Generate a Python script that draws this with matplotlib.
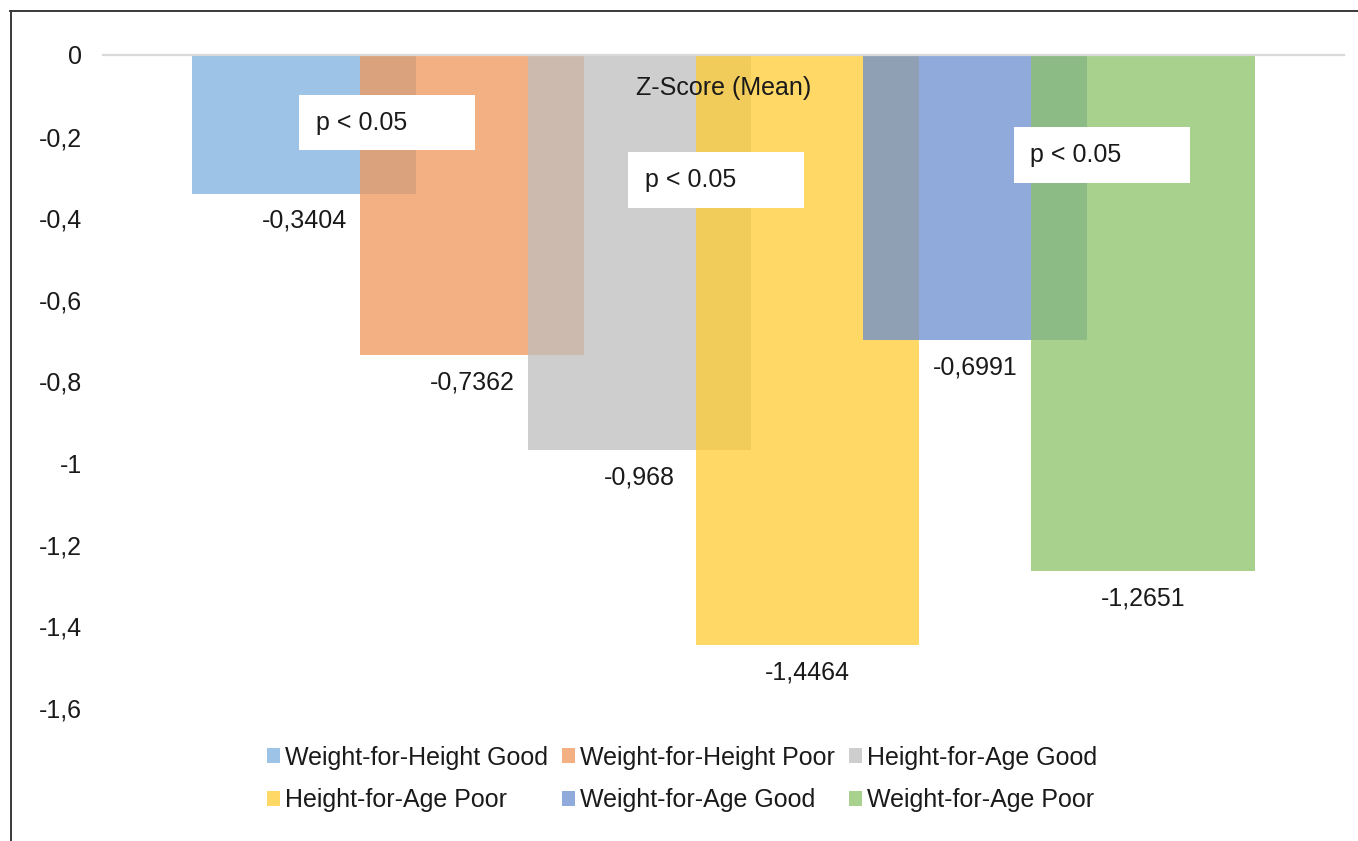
import matplotlib
matplotlib.use('Agg')
import matplotlib.pyplot as plt
from matplotlib.patches import Rectangle
from matplotlib.lines import Line2D

plt.rcParams['font.family'] = ['Liberation Sans', 'DejaVu Sans']

# 데이터
labels = ['Weight-for-Height Good', 'Weight-for-Height Poor', 'Height-for-Age Good',
          'Height-for-Age Poor', 'Weight-for-Age Good', 'Weight-for-Age Poor']
values = [-0.3404, -0.7362, -0.968, -1.4464, -0.6991, -1.2651]
yticks = [0, -0.2, -0.4, -0.6, -0.8, -1, -1.2, -1.4, -1.6]
p_text = 'p < 0.05'

# 반투명 막대 색 (겹치는 부분이 진하게 보이도록)
colors = ['#7CAFDE', '#F0975A', '#C0BEBE', '#FFCC33', '#6A8ED0', '#8CC268']
alpha = 0.75
text_color = '#1A1A1A'

W, H = 1358, 841
fig = plt.figure(figsize=(W / 100, H / 100), dpi=100)
ax = fig.add_axes([103 / W, 1 - 708 / H, (1344 - 103) / W, (708 - 55) / H])

# 막대 (서로 겹치게 넓게)
for i, (lab, v, c) in enumerate(zip(labels, values, colors)):
    ax.bar(i, v, width=4 / 3, color=c, alpha=alpha, label=lab, zorder=2, linewidth=0)
    ax.annotate(str(v).replace('.', ','), (i, v), xytext=(0, -27),
                textcoords='offset pixels', ha='center', va='center',
                fontsize=18, color=text_color, zorder=5)

ax.axhline(0, color='#D9D9D9', linewidth=1.6, zorder=3, clip_on=False)

ax.set_xlim(-1.2, 6.2)
ax.set_ylim(-1.6, 0)
ax.set_yticks(yticks)
ax.set_yticklabels([str(t).replace('.', ',') for t in yticks], fontsize=18, color=text_color)
ax.set_xticks([])
ax.tick_params(axis='y', length=0, pad=15)
for s in ax.spines.values():
    s.set_visible(False)

# 차트 제목 (플롯 안쪽)
ax.text(0.5, 0.95, 'Z-Score (Mean)', transform=ax.transAxes, ha='center', va='center',
        fontsize=18, color=text_color, zorder=6)

# p-value 박스
boxes = [(-0.03, -0.233, 1.05, 0.135), (1.93, -0.375, 1.05, 0.137), (4.23, -0.314, 1.05, 0.138)]
for (bx, by, bw, bh) in boxes:
    ax.add_patch(Rectangle((bx, by), bw, bh, facecolor='white', edgecolor='none', zorder=6))
    ax.text(bx + 0.1, by + bh / 2, p_text, ha='left', va='center', fontsize=18,
            color=text_color, zorder=7)

# 범례 - 가로 방향으로 채우기 위해 순서 재배치
handles, leg_labels = ax.get_legend_handles_labels()
order = [0, 3, 1, 4, 2, 5]
fig.legend([handles[k] for k in order], [leg_labels[k] for k in order],
           loc='center', bbox_to_anchor=(682 / W, 1 - 779 / H), ncol=3, frameon=False,
           fontsize=18, handlelength=0.52, handleheight=0.55, handletextpad=0.2,
           columnspacing=0.55, labelspacing=0.75, labelcolor=text_color)

# 테두리 (위, 왼쪽)
fig.add_artist(Line2D([10 / W, 1], [1 - 10.5 / H, 1 - 10.5 / H], color='#3A3A3A', linewidth=1.4))
fig.add_artist(Line2D([10.5 / W, 10.5 / W], [0, 1 - 10.5 / H], color='#3A3A3A', linewidth=1.4))

fig.savefig('out.png', dpi=100)
